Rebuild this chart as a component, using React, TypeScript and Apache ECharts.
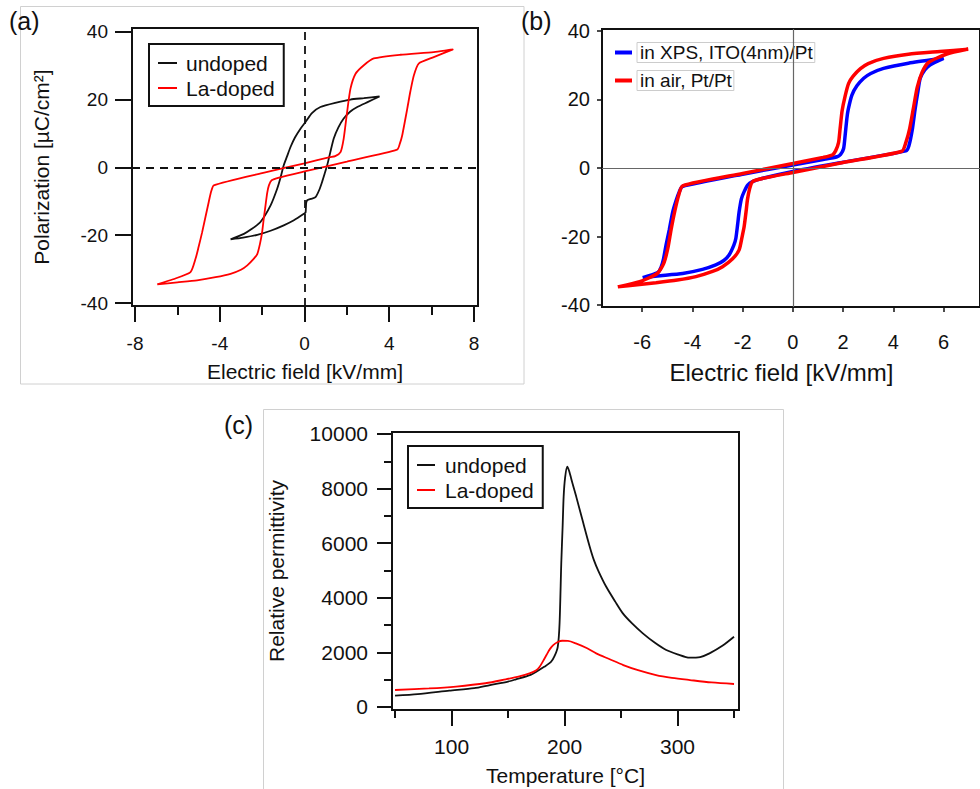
import React, { useEffect, useRef } from 'react';
import * as echarts from 'echarts';

const FONT = '"Liberation Sans", Arial, Helvetica, sans-serif';
const INK = '#111111';

// ---------- Panel (a): P-E loops ----------
const A_UNDOPED: number[][] = [
  [-3.49, -21.2], [-2.9, -20.7], [-2.23, -19.9], [-1.6, -18.7], [-0.98, -17.1], [-0.5, -15.6],
  [-0.03, -13.7], [0.05, -13.3], [0.08, -10.5], [0.13, -9.7], [0.3, -9.3], [0.52, -8.8],
  [0.7, -6.6], [0.83, -4.3], [0.95, -1.9], [1.07, 0.6], [1.22, 4.5], [1.38, 8.5], [1.6, 11.8],
  [1.85, 14.4], [2.15, 16.4], [2.49, 17.8], [3.0, 19.3], [3.54, 20.9],
  [2.8, 20.4], [2.17, 20.0], [1.5, 19.1], [0.75, 17.8], [0.35, 16.0], [0.05, 13.4], [-0.19, 11.4],
  [-0.45, 8.8], [-0.66, 6.0], [-0.82, 3.3], [-0.98, 0.6], [-1.13, -3.0], [-1.29, -6.3],
  [-1.6, -11.2], [-2.08, -16.1], [-2.5, -18.2], [-2.86, -19.6], [-3.49, -21.2],
];
const A_LADOPED: number[][] = [
  [-6.95, -34.5], [-6.0, -33.9], [-5.07, -33.3], [-4.2, -32.4], [-3.49, -31.4], [-3.0, -30.2],
  [-2.7, -28.9], [-2.4, -27.0], [-2.23, -25.6], [-2.1, -22.5], [-2.0, -19.1], [-1.92, -15.0],
  [-1.84, -11.2], [-1.76, -7.5], [-1.68, -5.3], [-1.55, -3.8], [-1.2, -3.0], [0, -1.2],
  [2.0, 1.7], [4.37, 5.2], [4.5, 7.0], [4.61, 9.4], [4.85, 17.3], [5.0, 22.5], [5.16, 27.1],
  [5.39, 30.6], [6.1, 32.5], [7.01, 34.8],
  [6.1, 34.0], [4.53, 33.2], [3.27, 32.1], [2.8, 30.1], [2.41, 27.6], [2.17, 23.2], [2.01, 16.3],
  [1.85, 8.5], [1.7, 4.5], [1.45, 3.3], [1.2, 3.0], [0, 1.2], [-2.0, -1.7], [-4.28, -5.3],
  [-4.4, -7.0], [-4.52, -10.2], [-4.83, -19.1], [-5.0, -23.5], [-5.14, -26.9], [-5.38, -30.9],
  [-6.2, -33.0], [-6.95, -34.5],
];
const A_X_TICKS = [-8, -4, 0, 4, 8];
const A_X_MINOR = [-6, -2, 2, 6];
const A_Y_TICKS = [-40, -20, 0, 20, 40];

// ---------- Panel (b): P-E loops ----------
const B_XPS: number[][] = [
  [-5.98, -32.0], [-5.4, -31.5], [-4.39, -30.8], [-3.6, -29.6], [-3.07, -28.3], [-2.75, -27.0],
  [-2.54, -25.4], [-2.35, -22.5], [-2.27, -20.5], [-2.2, -16.5], [-2.14, -12.8], [-2.05, -9.0],
  [-1.94, -6.9], [-1.8, -5.0], [-1.61, -4.0], [-1.2, -3.0], [0, -1.0], [2.0, 1.7], [4.5, 5.0],
  [4.62, 6.5], [4.75, 11.0], [4.87, 17.4], [4.97, 22.0], [5.07, 26.2], [5.25, 28.6], [5.46, 30.1],
  [6.0, 32.0],
  [5.73, 31.8], [4.6, 30.6], [3.61, 29.1], [3.1, 27.6], [2.82, 26.2], [2.55, 24.0], [2.35, 21.3],
  [2.2, 17.0], [2.15, 14.5], [2.08, 9.5], [2.02, 5.7], [1.9, 4.0], [1.76, 3.3], [1.2, 2.5],
  [0, 0.9], [-2.0, -1.8], [-4.4, -5.4], [-4.52, -6.9], [-4.65, -9.5], [-4.79, -13.0],
  [-4.92, -18.0], [-5.05, -22.5], [-5.15, -26.5], [-5.25, -29.0], [-5.38, -30.5], [-5.98, -32.0],
];
const B_AIR: number[][] = [
  [-6.97, -34.7], [-6.2, -34.1], [-5.45, -33.5], [-4.6, -32.7], [-3.86, -31.7], [-3.2, -30.2],
  [-2.8, -28.8], [-2.4, -26.5], [-2.14, -23.9], [-2.02, -20.0], [-1.94, -17.1], [-1.86, -12.5],
  [-1.81, -9.3], [-1.72, -6.0], [-1.61, -4.0], [-1.3, -3.2], [0, -1.3], [2.0, 1.6], [4.34, 4.9],
  [4.5, 7.5], [4.65, 11.5], [4.8, 17.5], [4.95, 23.5], [5.15, 28.0], [5.4, 30.8], [6.1, 33.2],
  [6.98, 34.7],
  [5.85, 34.0], [4.6, 33.2], [3.61, 32.0], [3.0, 30.5], [2.69, 29.0], [2.4, 26.8], [2.22, 24.7],
  [2.08, 21.0], [1.96, 16.7], [1.88, 11.5], [1.82, 7.5], [1.7, 5.0], [1.57, 3.8], [1.2, 3.1],
  [0, 1.3], [-2.0, -1.6], [-4.39, -5.2], [-4.55, -8.0], [-4.7, -12.5], [-4.85, -18.0],
  [-4.98, -23.5], [-5.15, -28.0], [-5.4, -30.8], [-6.1, -33.2], [-6.97, -34.7],
];
const B_X_TICKS = [-6, -4, -2, 0, 2, 4, 6];
const B_Y_TICKS = [-40, -20, 0, 20, 40];

// ---------- Panel (c): permittivity vs temperature ----------
const C_T_UNDOPED = [50, 70, 98, 120, 134, 150, 157, 170, 175, 182, 188, 191, 194, 195.6, 197.1, 198.3, 199.2, 200.5, 202.4, 204, 207, 210.4, 216, 222.1, 226, 230, 236.9, 245, 251.6, 260, 269.3, 280, 290, 300, 310.6, 320, 328.3, 340, 350];
const C_EPS_UNDOPED = [414, 470, 597, 690, 805, 930, 1014, 1180, 1293, 1470, 1650, 1850, 2206, 3062, 5257, 6600, 7697, 8400, 8800, 8650, 8200, 7697, 6830, 5900, 5380, 4980, 4403, 3850, 3428, 3050, 2696, 2350, 2086, 1930, 1805, 1830, 1964, 2250, 2572];
const C_T_LA = [50, 80, 104, 130, 148, 160, 169, 175, 178, 181, 184, 187, 190, 194, 198, 203, 210, 220, 228, 240, 252, 265, 281, 295, 311, 330, 350];
const C_EPS_LA = [622, 680, 750, 870, 1013, 1120, 1232, 1350, 1475, 1680, 1903, 2120, 2269, 2380, 2426, 2420, 2330, 2150, 1964, 1750, 1537, 1350, 1171, 1070, 988, 900, 842];
const C_X_TICKS = [100, 200, 300];
const C_X_MINOR = [50, 150, 250, 350];
const C_Y_TICKS = [0, 2000, 4000, 6000, 8000, 10000];
const C_Y_MINOR = [1000, 3000, 5000, 7000, 9000];

const fmt = (v: number) => String(v);

function mainAxis(extra: any) {
  return {
    type: 'value',
    axisLine: { show: false, onZero: false },
    splitLine: { show: false },
    axisPointer: { show: false },
    nameLocation: 'middle',
    ...extra,
  };
}

function minorAxis(gridIndex: number, min: number, max: number, position: string, values: number[], length: number, width: number) {
  return {
    type: 'value', gridIndex, min, max, position,
    axisLine: { show: false, onZero: false },
    splitLine: { show: false },
    axisLabel: { show: false },
    axisTick: { show: true, customValues: values, length, lineStyle: { color: INK, width } },
  };
}

function buildOption() {
  const lbl = (size: number, margin: number, values: number[]) => ({
    show: true, customValues: values, margin, fontSize: size, fontFamily: FONT, color: INK, formatter: fmt,
  });
  const tick = (values: number[], length: number, width: number) => ({
    show: true, customValues: values, length, lineStyle: { color: INK, width },
  });
  const nameStyle = (size: number, extra: any = {}) => ({ fontSize: size, fontFamily: FONT, color: INK, ...extra });

  const legendBase = {
    orient: 'vertical', icon: 'rect', selectedMode: false,
    itemStyle: { borderWidth: 0 },
  };

  return {
    animation: false,
    backgroundColor: '#ffffff',
    grid: [
      { left: 132, top: 28, width: 346, height: 278, show: true, borderColor: INK, borderWidth: 2, backgroundColor: 'transparent' },
      { left: 602, top: 29, width: 380, height: 278, show: true, borderColor: INK, borderWidth: 2, backgroundColor: 'transparent' },
      { left: 392, top: 432, width: 347, height: 278, show: true, borderColor: INK, borderWidth: 2, backgroundColor: 'transparent' },
    ],
    xAxis: [
      mainAxis({
        gridIndex: 0, min: -8.142, max: 8.189, position: 'bottom',
        axisTick: tick(A_X_TICKS, 16, 2), axisLabel: lbl(19, 28, A_X_TICKS),
        name: 'Electric field [kV/mm]', nameGap: 55, nameTextStyle: nameStyle(21),
      }),
      minorAxis(0, -8.142, 8.189, 'bottom', A_X_MINOR, 9, 2),
      mainAxis({
        gridIndex: 1, min: -7.60, max: 7.45, position: 'bottom',
        axisTick: tick(B_X_TICKS, 5, 1.5), axisLabel: lbl(20, 25, B_X_TICKS),
        name: 'Electric field [kV/mm]', nameGap: 53, nameTextStyle: nameStyle(24, { padding: [0, 19, 0, 0] }),
      }),
      mainAxis({
        gridIndex: 2, min: 47.3, max: 354.4, position: 'bottom',
        axisTick: tick(C_X_TICKS, 16, 2), axisLabel: lbl(21, 26, C_X_TICKS),
        name: 'Temperature [°C]', nameGap: 55, nameTextStyle: nameStyle(21),
      }),
      minorAxis(2, 47.3, 354.4, 'bottom', C_X_MINOR, 8, 2),
    ],
    yAxis: [
      mainAxis({
        gridIndex: 0, min: -40.88, max: 41.09, position: 'left',
        axisTick: tick(A_Y_TICKS, 17, 2), axisLabel: lbl(19, 24, A_Y_TICKS),
        name: 'Polarization [µC/cm²]', nameGap: 80, nameTextStyle: nameStyle(21),
      }),
      mainAxis({
        gridIndex: 1, min: -40.58, max: 40.58, position: 'left',
        axisTick: tick(B_Y_TICKS, 5, 1.5), axisLabel: lbl(20, 12, B_Y_TICKS),
      }),
      mainAxis({
        gridIndex: 2, min: -110, max: 10073, position: 'left',
        axisTick: tick(C_Y_TICKS, 15, 2), axisLabel: lbl(21, 24, C_Y_TICKS),
        name: 'Relative permittivity', nameGap: 105, nameTextStyle: nameStyle(21),
      }),
      minorAxis(2, -110, 10073, 'left', C_Y_MINOR, 8, 2),
    ],
    legend: [
      {
        ...legendBase, left: 149, top: 44, padding: [8.5, 9, 7.5, 9], itemGap: 4, itemWidth: 19, itemHeight: 2,
        borderColor: INK, borderWidth: 2, data: ['undoped', 'La-doped'],
        textStyle: { fontSize: 21, fontFamily: FONT, color: INK, padding: [0, 0, 0, 4], lineHeight: 21 },
      },
      {
        ...legendBase, left: 615, top: 42, padding: 0, itemGap: 7, itemWidth: 17, itemHeight: 4,
        data: ['in XPS, ITO(4nm)/Pt', 'in air, Pt/Pt'],
        textStyle: {
          fontSize: 19, fontFamily: FONT, color: INK, lineHeight: 19,
          borderColor: '#cccccc', borderWidth: 1, padding: [1, 2, 0, 3],
        },
      },
      {
        ...legendBase, left: 408, top: 446, padding: [8.5, 9, 7.5, 9], itemGap: 4, itemWidth: 18, itemHeight: 2,
        borderColor: INK, borderWidth: 2, data: ['undoped', 'La-doped'],
        textStyle: { fontSize: 21, fontFamily: FONT, color: INK, padding: [0, 0, 0, 5], lineHeight: 21 },
      },
    ],
    graphic: [
      { type: 'rect', z: -10, shape: { x: 20.5, y: 6.5, width: 503.5, height: 377.5 }, style: { fill: 'none', stroke: '#d0d0d0', lineWidth: 1 } },
      { type: 'rect', z: -10, shape: { x: 263.5, y: 409.5, width: 520, height: 400 }, style: { fill: 'none', stroke: '#d0d0d0', lineWidth: 1 } },
      { type: 'text', x: 9, y: 21, style: { text: '(a)', fontSize: 25, fontFamily: FONT, fill: INK, verticalAlign: 'middle' } },
      { type: 'text', x: 521, y: 21, style: { text: '(b)', fontSize: 25, fontFamily: FONT, fill: INK, verticalAlign: 'middle' } },
      { type: 'text', x: 224, y: 425, style: { text: '(c)', fontSize: 25, fontFamily: FONT, fill: INK, verticalAlign: 'middle' } },
    ],
    series: [
      {
        name: 'undoped', type: 'line', xAxisIndex: 0, yAxisIndex: 0, data: A_UNDOPED,
        showSymbol: false, symbol: 'none', smooth: 0.2, color: INK, lineStyle: { color: INK, width: 1.8 },
        markLine: {
          silent: true, symbol: ['none', 'none'], label: { show: false }, animation: false,
          lineStyle: { color: INK, type: [8, 6], width: 1.8 },
          emphasis: { disabled: true },
          data: [{ xAxis: 0 }, { yAxis: 0 }],
        },
      },
      {
        name: 'La-doped', type: 'line', xAxisIndex: 0, yAxisIndex: 0, data: A_LADOPED,
        showSymbol: false, symbol: 'none', smooth: 0.2, color: '#ff0000', lineStyle: { color: '#ff0000', width: 1.8 },
      },
      {
        name: 'in XPS, ITO(4nm)/Pt', type: 'line', xAxisIndex: 2, yAxisIndex: 1, data: B_XPS,
        showSymbol: false, symbol: 'none', smooth: 0.2, color: '#0000ff', lineStyle: { color: '#0000ff', width: 3.5 },
        markLine: {
          silent: true, symbol: ['none', 'none'], label: { show: false }, animation: false,
          lineStyle: { color: '#666666', type: 'solid', width: 1.2 },
          emphasis: { disabled: true },
          data: [{ xAxis: 0 }, { yAxis: 0 }],
        },
      },
      {
        name: 'in air, Pt/Pt', type: 'line', xAxisIndex: 2, yAxisIndex: 1, data: B_AIR,
        showSymbol: false, symbol: 'none', smooth: 0.2, color: '#ff0000', lineStyle: { color: '#ff0000', width: 3.5 },
      },
      {
        name: 'undoped', type: 'line', xAxisIndex: 3, yAxisIndex: 2,
        data: C_T_UNDOPED.map((t, i) => [t, C_EPS_UNDOPED[i]]),
        showSymbol: false, symbol: 'none', smooth: 0.25, color: INK, lineStyle: { color: INK, width: 1.8 },
      },
      {
        name: 'La-doped', type: 'line', xAxisIndex: 3, yAxisIndex: 2,
        data: C_T_LA.map((t, i) => [t, C_EPS_LA[i]]),
        showSymbol: false, symbol: 'none', smooth: 0.3, color: '#ff0000', lineStyle: { color: '#ff0000', width: 1.8 },
      },
    ],
  };
}

export default function App() {
  const ref = useRef<HTMLDivElement>(null);
  useEffect(() => {
    document.body.style.margin = '0';
    const chart = echarts.init(ref.current as HTMLDivElement, null, { renderer: 'svg' });
    chart.setOption(buildOption() as any);
    return () => chart.dispose();
  }, []);
  return <div ref={ref} style={{ position: 'absolute', left: 0, top: 0, width: 980, height: 789 }} />;
}
